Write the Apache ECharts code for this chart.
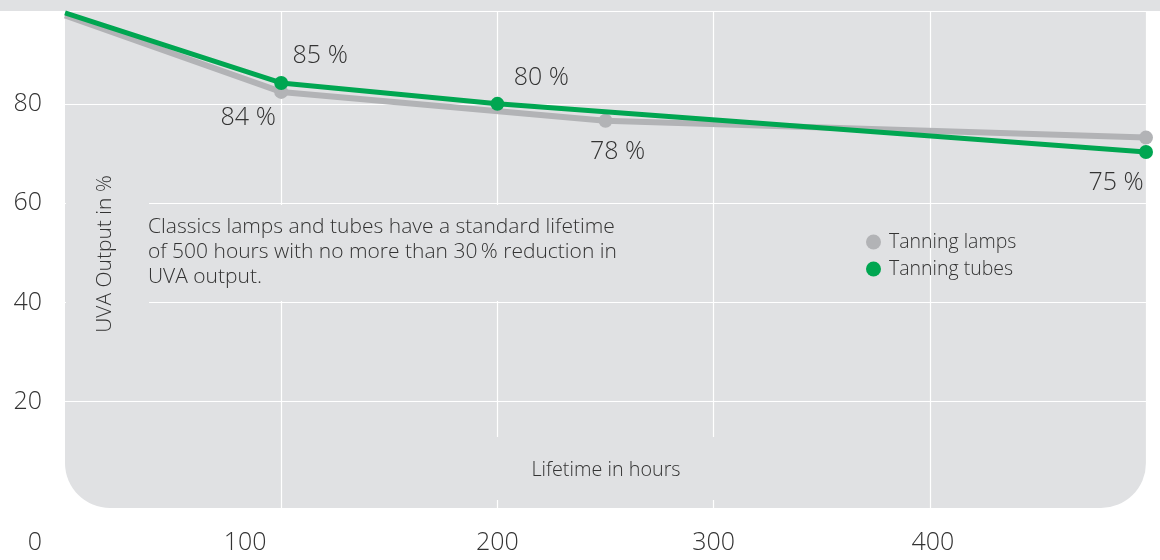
<!DOCTYPE html>
<html>
<head>
<meta charset="utf-8">
<script src="https://cdn.jsdelivr.net/npm/echarts@6/dist/echarts.min.js"></script>
<style>
html,body{margin:0;padding:0;background:#fff;}
#chart{width:1160px;height:560px;}
</style>
</head>
<body>
<div id="chart"></div>
<script>
// ---- data ----
const seriesNames = ['Tanning lamps', 'Tanning tubes'];
const lampHours = [0, 100, 250, 500];
const lampOutput = [97.8, 82.4, 76.6, 73.2];
const lampLabels = ['', '84 %', '78 %', ''];
const tubeHours = [0, 100, 200, 500];
const tubeOutput = [98.3, 84.2, 80.0, 70.3];
const tubeLabels = ['', '85 %', '80 %', '75 %'];
const xTickValues = [0, 100, 200, 300, 400, 500];
const xTickLabels = ['0', '100', '200', '300', '400', ''];
const yTickValues = [0, 20, 40, 60, 80];
const yTickLabels = ['', '20', '40', '60', '80'];
const xTitle = 'Lifetime in hours';
const yTitle = 'UVA Output in %';
const noteText = 'Classics lamps and tubes have a standard lifetime\nof 500 hours with no more than 30\u2009% reduction in\nUVA output.';

// ---- styles ----
const FONT = '"Open Sans", "Liberation Sans", sans-serif';
const W = 300;
const TXT = '#333333';
const BG = '#e0e1e3';
const GREEN = '#00a651';
const GREY = '#b2b3b6';
const lampLabelOffsets = [[0,0], [-33, 26], [12, 31], [0,0]];
const tubeLabelOffsets = [[0,0], [39, -27], [44, -26], [-30, 31]];
const xLabelShift = {'0': [0,60,0,0], '100': [0,72,0,0], '400': [0,0,0,6]};

function buildData(xs, ys, labels, offsets) {
  return xs.map((x, i) => {
    const item = { value: [x, ys[i]] };
    if (i === 0) { item.symbol = 'none'; }
    if (labels[i]) {
      item.label = { show: true, formatter: labels[i], offset: offsets[i] };
    } else {
      item.label = { show: false };
    }
    return item;
  });
}

const rich = {};
Object.keys(xLabelShift).forEach((k, i) => { rich['s' + i] = { padding: xLabelShift[k], fontSize: 25, fontFamily: FONT, fontWeight: W, color: TXT }; });

const chart = echarts.init(document.getElementById('chart'), null, { renderer: 'canvas' });
const labelBase = {
  position: 'inside', align: 'center', verticalAlign: 'middle',
  fontSize: 25, fontFamily: FONT, fontWeight: W, color: TXT
};

chart.setOption({
  animation: false,
  backgroundColor: '#ffffff',
  grid: { left: 65, right: 14, top: 11, bottom: 59, containLabel: false },
  xAxis: {
    type: 'value', min: 0, max: 500, interval: 100,
    axisLine: { show: false },
    axisTick: { show: true, length: 7, lineStyle: { color: '#ffffff', width: 1.2 } },
    splitLine: { show: true, showMinLine: false, lineStyle: { color: '#ffffff', width: 1.2 } },
    axisLabel: {
      margin: 29, fontSize: 25, fontFamily: FONT, fontWeight: W, color: TXT,
      showMaxLabel: true,
      formatter: function (v) {
        const idx = xTickValues.indexOf(v);
        const t = idx >= 0 ? xTickLabels[idx] : '';
        if (!t) return '';
        const keys = Object.keys(xLabelShift);
        const k = keys.indexOf(t);
        return k >= 0 ? '{s' + k + '|' + t + '}' : t;
      },
      rich: rich
    }
  },
  yAxis: {
    type: 'value', min: 0, max: 98.7, interval: 20,
    axisLine: { show: false }, axisTick: { show: false },
    splitLine: { show: true, showMinLine: false, lineStyle: { color: '#ffffff', width: 1.2 } },
    axisLabel: {
      margin: 23, fontSize: 25, fontFamily: FONT, fontWeight: W, color: TXT,
      showMaxLabel: false,
      formatter: function (v) {
        const idx = yTickValues.indexOf(v);
        return idx >= 0 ? yTickLabels[idx] : '';
      }
    }
  },
  legend: {
    data: seriesNames, orient: 'vertical', left: 866, top: 232,
    icon: 'circle', itemWidth: 15, itemHeight: 15, itemGap: 7, padding: 0,
    textStyle: { fontSize: 19.5, fontFamily: FONT, fontWeight: W, color: TXT, padding: [0,0,0,3] }
  },
  graphic: [
    { type: 'rect', z: -20, shape: { x: 0, y: 0, width: 1160, height: 11 }, style: { fill: BG } },
    { type: 'rect', z: -20, shape: { x: 65, y: 0, width: 1081, height: 508, r: [0, 0, 45, 45] }, style: { fill: BG } },
    { type: 'rect', z: 1, shape: { x: 66, y: 106, width: 83, height: 294 }, style: { fill: BG } },
    { type: 'rect', z: 1, shape: { x: 150, y: 205, width: 500, height: 96 }, style: { fill: BG } },
    { type: 'rect', z: 1, shape: { x: 300, y: 437, width: 600, height: 63 }, style: { fill: BG } },
    { type: 'text', z: 3, x: 105, y: 254, rotation: Math.PI / 2,
      style: { text: yTitle, fontSize: 21, fontFamily: FONT, fontWeight: W, fill: TXT, align: 'center', verticalAlign: 'middle' } },
    { type: 'text', z: 3, x: 606, y: 470,
      style: { text: xTitle, fontSize: 19.8, fontFamily: FONT, fontWeight: W, fill: TXT, align: 'center', verticalAlign: 'middle' } },
    { type: 'text', z: 3, x: 148, y: 215,
      style: { text: noteText, fontSize: 21, lineHeight: 25, fontFamily: FONT, fontWeight: W, fill: TXT, align: 'left', verticalAlign: 'top' } }
  ],
  series: [
    {
      name: seriesNames[0], type: 'line', z: 2,
      data: buildData(lampHours, lampOutput, lampLabels, lampLabelOffsets),
      symbol: 'circle', symbolSize: 14, showAllSymbol: true,
      lineStyle: { color: GREY, width: 6 }, itemStyle: { color: GREY },
      label: labelBase
    },
    {
      name: seriesNames[1], type: 'line', z: 3,
      data: buildData(tubeHours, tubeOutput, tubeLabels, tubeLabelOffsets),
      symbol: 'circle', symbolSize: 14, showAllSymbol: true,
      lineStyle: { color: GREEN, width: 5 }, itemStyle: { color: GREEN },
      label: labelBase
    }
  ]
});
</script>
</body>
</html>
